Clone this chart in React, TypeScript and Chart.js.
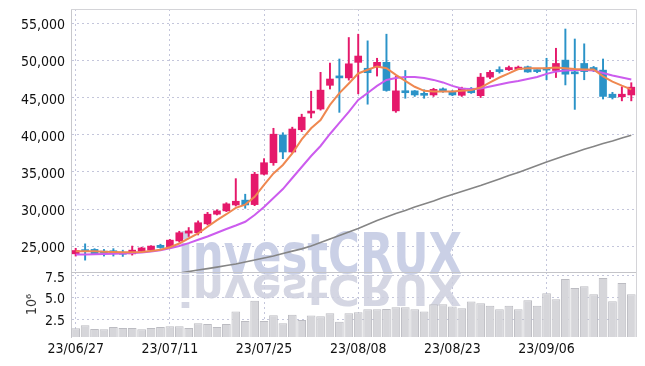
import React, { useEffect, useRef } from "react";
import { Chart, registerables } from "chart.js";
Chart.register(...registerables);

const dates = ["23/06/27","23/06/28","23/06/29","23/06/30","23/07/03","23/07/04","23/07/05","23/07/06","23/07/07","23/07/10","23/07/11","23/07/12","23/07/13","23/07/14","23/07/17","23/07/18","23/07/19","23/07/20","23/07/21","23/07/24","23/07/25","23/07/26","23/07/27","23/07/28","23/07/31","23/08/01","23/08/02","23/08/03","23/08/04","23/08/07","23/08/08","23/08/09","23/08/10","23/08/11","23/08/14","23/08/16","23/08/17","23/08/18","23/08/21","23/08/22","23/08/23","23/08/24","23/08/25","23/08/28","23/08/29","23/08/30","23/08/31","23/09/01","23/09/04","23/09/05","23/09/06","23/09/07","23/09/08","23/09/11","23/09/12","23/09/13","23/09/14","23/09/15","23/09/18","23/09/19"];

const opens = [23950,24350,24550,24300,24200,24150,23950,24300,24450,25100,24800,25700,26750,26800,28000,29300,29750,30550,31200,30600,34700,36250,40000,37700,40700,42950,43500,46700,47850,47700,49800,49000,49150,49800,43250,45950,45950,45500,45400,46150,45750,45350,46300,45300,47800,48650,48800,48850,49200,48650,48850,48700,50100,48350,49650,49100,48750,45500,45150,45400];
const closes = [24400,24250,23900,24050,24100,23900,24450,24750,25000,24800,25800,26800,27050,28150,29300,29750,30700,31050,30550,34700,36250,40100,37700,40800,42400,43150,46050,47550,47700,49600,50650,48400,49800,46000,45950,45700,45400,45350,46150,45950,45400,46300,45700,47800,48450,48550,49100,49150,48500,48550,48750,49650,48200,48250,48550,48700,45200,45050,45500,46450];
const highs = [24700,25300,24650,24550,24650,24450,25000,24850,25050,25250,25900,27000,27500,28400,29550,29900,30850,34100,32000,34950,36800,40900,40300,41050,42800,45900,48450,49700,50250,53150,53600,52700,50350,53600,47900,48700,46000,46100,46300,46350,46000,46450,46400,48300,48700,49200,49300,49300,49300,48800,50350,51700,54300,52950,52300,49250,50250,45750,46500,47050];
const lows = [23650,23100,23850,23650,23650,23600,23780,24250,24400,24700,24650,25550,26300,26500,27850,29200,29650,30400,30100,30450,34600,35900,36800,37600,40450,42300,43350,46200,43050,47400,45550,44150,47950,45900,43050,44950,45200,44950,45200,45750,45300,45200,45600,45050,47600,48350,48700,48800,48450,48400,47450,47750,46750,43450,47450,48550,44850,44850,44600,44600];

const ma5 = [24300,24300,24300,24250,24200,24150,24150,24200,24350,24500,24850,25350,26050,26700,27600,28500,29300,30150,30600,31650,33250,34800,35950,37500,39400,40900,42000,44050,45650,46950,48300,48800,49250,49000,48100,47300,46500,45950,45850,45850,45850,45950,46050,46400,47100,47750,48300,48900,49000,49000,49000,49100,49000,48900,48850,48850,47900,47200,46650,46150];
const ma20 = [23850,23870,23900,23920,23950,24000,24050,24120,24250,24450,24700,25000,25400,25850,26300,26800,27300,27770,28280,29190,30270,31480,32700,34190,35670,37160,38510,40130,41620,43100,44720,45670,46620,47430,47700,47830,47830,47700,47430,47090,46620,46280,46170,46280,46550,46820,47090,47290,47560,47830,48240,48570,48710,48780,48780,48710,48370,48030,47760,47490];
const ma60 = [null,null,null,null,null,null,null,null,null,null,21080,21350,21560,21760,21960,22160,22370,22570,22840,23110,23380,23650,23990,24320,24620,25000,25470,25950,26420,26890,27360,27900,28450,28920,29390,29800,30270,30670,31080,31550,31960,32360,32770,33170,33610,34050,34520,34930,35400,35880,36350,36790,37230,37630,38060,38440,38850,39190,39590,39960];
const volumes = [1.46,1.81,1.38,1.34,1.61,1.49,1.49,1.34,1.49,1.61,1.69,1.69,1.49,2.04,1.94,1.61,1.96,3.38,2.30,4.62,2.30,2.96,2.04,3.03,2.42,2.92,2.85,3.19,2.22,3.19,3.31,3.66,3.66,3.69,3.89,3.89,3.66,3.38,4.24,4.24,3.96,3.77,4.54,4.35,4.07,3.66,4.07,3.66,4.70,4.07,5.51,4.81,7.13,6.09,6.32,5.39,7.25,4.58,6.67,5.39];

const priceTicks = [25000, 30000, 35000, 40000, 45000, 50000, 55000];
const volumeTicks = [2.5, 5.0, 7.5];

const UP = "#e5196b";
const DOWN = "#2b93c8";
const GRID = "rgba(190,192,215,0.9)";
const FONT = "'DejaVu Sans Condensed', 'DejaVu Sans', sans-serif";
const WM_FONT = "'DejaVu Sans', sans-serif";
const WATERMARK = "investCRUX";

const candleColors = opens.map((o, i) => (closes[i] >= o ? UP : DOWN));

function drawWatermark(ctx: CanvasRenderingContext2D, cx: number, baseline: number, flip: boolean) {
  ctx.save();
  ctx.font = `bold 57px ${WM_FONT}`;
  const w = ctx.measureText(WATERMARK).width;
  const sx = 284 / w;
  ctx.translate(cx, baseline);
  if (flip) ctx.scale(sx, -0.75);
  else ctx.scale(sx, 1);
  ctx.textAlign = "center";
  ctx.textBaseline = "alphabetic";
  if (flip) {
    const g = ctx.createLinearGradient(0, 0, 0, 45);
    g.addColorStop(0, "rgba(205,207,222,0.85)");
    g.addColorStop(1, "rgba(228,229,236,0.1)");
    ctx.fillStyle = g;
  } else {
    ctx.fillStyle = "rgb(202,208,230)";
  }
  ctx.fillText(WATERMARK, 0, 0);
  ctx.restore();
}

const priceDecor = {
  id: "priceDecor",
  beforeDatasetsDraw(chart: any) {
    drawWatermark(chart.ctx, 320, 274, false);
  },
  afterDraw(chart: any) {
    const { ctx, chartArea: a } = chart;
    ctx.save();
    ctx.strokeStyle = "#d4d4d8";
    ctx.lineWidth = 1;
    ctx.beginPath();
    ctx.moveTo(a.left, a.top + 0.5);
    ctx.lineTo(a.right + 0.5, a.top + 0.5);
    ctx.lineTo(a.right + 0.5, a.bottom);
    ctx.stroke();
    ctx.restore();
  },
};

const volumeDecor = {
  id: "volumeDecor",
  beforeDatasetsDraw(chart: any) {
    const { ctx, chartArea: a } = chart;
    ctx.save();
    ctx.beginPath();
    ctx.rect(a.left, a.top, a.right - a.left, a.bottom - a.top);
    ctx.clip();
    drawWatermark(ctx, 320, a.top + 3, true);
    ctx.restore();
  },
  afterDraw(chart: any) {
    const { ctx, chartArea: a } = chart;
    ctx.save();
    ctx.strokeStyle = "#c4c4c8";
    ctx.lineWidth = 1;
    ctx.beginPath();
    ctx.moveTo(a.left, a.top + 0.5);
    ctx.lineTo(a.right + 0.5, a.top + 0.5);
    ctx.stroke();
    ctx.strokeStyle = "#d4d4d8";
    ctx.beginPath();
    ctx.moveTo(a.right + 0.5, a.top);
    ctx.lineTo(a.right + 0.5, a.bottom);
    ctx.stroke();
    ctx.restore();
  },
};

const fitY = (s: any) => {
  s.width = 71;
  s.paddingTop = 0;
  s.paddingBottom = 0;
};

export default function App() {
  const priceRef = useRef<HTMLCanvasElement>(null);
  const volRef = useRef<HTMLCanvasElement>(null);

  useEffect(() => {
    const xGrid = {
      offset: false,
      drawTicks: false,
      color: (c: any) => (c.index % 10 === 0 ? GRID : "transparent"),
    };

    const price = new Chart(priceRef.current!, {
      type: "bar",
      data: {
        labels: dates,
        datasets: [
          { type: "line", label: "MA5", data: ma5, borderColor: "#ef8850", borderWidth: 2, pointRadius: 0, order: 0, tension: 0 } as any,
          { type: "line", label: "MA20", data: ma20, borderColor: "#cc5cee", borderWidth: 2, pointRadius: 0, order: 0, tension: 0 } as any,
          { type: "line", label: "MA60", data: ma60, borderColor: "#858585", borderWidth: 1.6, pointRadius: 0, order: 0, tension: 0 } as any,
          {
            type: "bar", label: "wick",
            data: lows.map((l, i) => [l, highs[i]]),
            backgroundColor: candleColors, barThickness: 1.3, grouped: false, order: 2,
          } as any,
          {
            type: "bar", label: "body",
            data: opens.map((o, i) => [o, closes[i]]),
            backgroundColor: candleColors, barThickness: 7, grouped: false, order: 1, minBarLength: 2,
          } as any,
        ],
      },
      options: {
        animation: false,
        responsive: false,
        maintainAspectRatio: false,
        layout: { padding: { top: 9, right: 9, bottom: 8, left: 0 } },
        plugins: { legend: { display: false }, tooltip: { enabled: false } },
        scales: {
          x: {
            type: "category",
            offset: true,
            grid: xGrid as any,
            border: { display: false, dash: [2, 3] },
            ticks: { display: false, autoSkip: false },
            afterFit: (s: any) => { s.height = 0; s.paddingLeft = 0; s.paddingRight = 0; },
          },
          y: {
            min: 21500,
            max: 57000,
            afterBuildTicks: (s: any) => { s.ticks = priceTicks.map((v) => ({ value: v })); },
            afterFit: fitY,
            grid: { color: GRID, drawTicks: false },
            border: { display: true, color: "#c8c8cc", dash: [2, 3] },
            ticks: {
              padding: 6,
              labelOffset: 2,
              color: "#111",
              font: { family: FONT, size: 14 },
              callback: (v: any) => Number(v).toLocaleString("en-US"),
            },
          },
        },
      },
      plugins: [priceDecor],
    });

    const vol = new Chart(volRef.current!, {
      type: "bar",
      data: {
        labels: dates,
        datasets: [
          {
            label: "Volume",
            data: volumes,
            backgroundColor: "rgb(214,214,218)",
            borderColor: "rgb(188,188,194)",
            borderWidth: 1,
            barPercentage: 0.92,
            categoryPercentage: 1,
          },
        ],
      },
      options: {
        animation: false,
        responsive: false,
        maintainAspectRatio: false,
        layout: { padding: { top: 7, right: 9, bottom: 6, left: 0 } },
        plugins: { legend: { display: false }, tooltip: { enabled: false } },
        scales: {
          x: {
            type: "category",
            offset: true,
            grid: xGrid as any,
            border: { display: false, dash: [2, 3] },
            ticks: {
              autoSkip: false,
              maxRotation: 0,
              padding: 4,
              color: "#111",
              font: { family: FONT, size: 14 },
              callback: (_v: any, i: number) => (i % 10 === 0 ? dates[i] : ""),
            },
            afterFit: (s: any) => { s.height = 23; s.paddingLeft = 0; s.paddingRight = 0; },
          },
          y: {
            min: 0.45,
            max: 7.95,
            afterBuildTicks: (s: any) => { s.ticks = volumeTicks.map((v) => ({ value: v })); },
            afterFit: fitY,
            grid: { color: GRID, drawTicks: false },
            border: { display: true, color: "#c8c8cc", dash: [2, 3] },
            title: { display: true, text: "10⁶", color: "#333", font: { family: FONT, size: 14 }, padding: { top: 24, bottom: 0 } },
            ticks: {
              padding: 6,
              labelOffset: 2,
              color: "#111",
              font: { family: FONT, size: 14 },
              callback: (v: any) => Number(v).toFixed(1),
            },
          },
        },
      },
      plugins: [volumeDecor],
    });

    return () => {
      price.destroy();
      vol.destroy();
    };
  }, []);

  return (
    <div style={{ position: "absolute", left: 0, top: 0, width: 645, height: 366, background: "#fff" }}>
      <canvas ref={priceRef} width={645} height={280} style={{ position: "absolute", left: 0, top: 0 }} />
      <canvas ref={volRef} width={645} height={101} style={{ position: "absolute", left: 0, top: 265 }} />
    </div>
  );
}
